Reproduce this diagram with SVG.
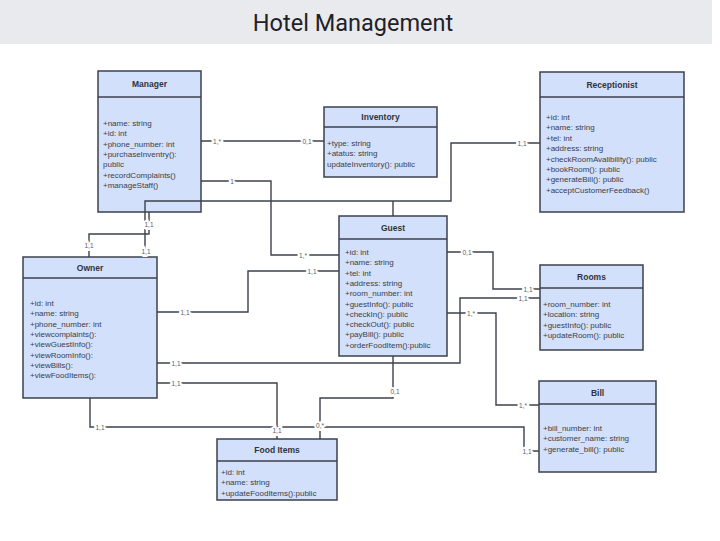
<svg xmlns="http://www.w3.org/2000/svg" width="720" height="541" viewBox="0 0 720 541">
<style>
.box{fill:#d3e0fb;stroke:#3c414c;stroke-width:1.5}
.div{stroke:#3c414c;stroke-width:1.5}
.hd{font-family:"Liberation Sans",Arial,sans-serif;font-size:8.5px;font-weight:bold;fill:#2f333b;text-anchor:middle}
.at{font-family:"Liberation Sans",Arial,sans-serif;font-size:8px;fill:#3a3e47}
.cn{fill:none;stroke:#3c414c;stroke-width:1.4}
.lb{font-family:"Liberation Sans",Arial,sans-serif;font-size:6.5px;fill:#555a63;text-anchor:middle;dominant-baseline:central;stroke:#ffffff;stroke-width:4px;paint-order:stroke}
</style>
<rect x="0" y="0" width="720" height="541" fill="#ffffff"/>
<g id="title">
<rect x="0" y="0" width="712" height="44" fill="#e9eaee"/>
<text x="353" y="31" font-family="Roboto,Liberation Sans,Arial,sans-serif" font-size="23.5" fill="#1f2126" text-anchor="middle">Hotel Management</text>
</g>
<g id="manager">
<rect class="box" x="98" y="71" width="103" height="141"/>
<line class="div" x1="98" y1="97" x2="201" y2="97"/>
<text class="hd" x="149.5" y="87">Manager</text>
<text class="at"><tspan x="103" y="126">+name: string</tspan><tspan x="103" y="136.3">+id: int</tspan><tspan x="103" y="146.6">+phone_number: int</tspan><tspan x="103" y="156.9">+purchaseInventry():</tspan><tspan x="103" y="167.2">public</tspan><tspan x="103" y="177.5">+recordComplaints()</tspan><tspan x="103" y="187.8">+manageStaff()</tspan></text>
</g>
<g id="inventory">
<rect class="box" x="324" y="107" width="113" height="70"/>
<line class="div" x1="324" y1="127" x2="437" y2="127"/>
<text class="hd" x="380.5" y="120">Inventory</text>
<text class="at"><tspan x="327" y="146">+type: string</tspan><tspan x="327" y="156.3">+atatus: string</tspan><tspan x="327" y="166.6">updateInventory(): public</tspan></text>
</g>
<g id="receptionist">
<rect class="box" x="540" y="72" width="144" height="140"/>
<line class="div" x1="540" y1="97" x2="684" y2="97"/>
<text class="hd" x="612" y="88">Receptionist</text>
<text class="at"><tspan x="546" y="120">+id: int</tspan><tspan x="546" y="130.4">+name: string</tspan><tspan x="546" y="140.8">+tel: int</tspan><tspan x="546" y="151.2">+address: string</tspan><tspan x="546" y="161.6">+checkRoomAvalibility(): public</tspan><tspan x="546" y="172">+bookRoom(): public</tspan><tspan x="546" y="182.4">+generateBill(): public</tspan><tspan x="546" y="192.8">+acceptCustomerFeedback()</tspan></text>
</g>
<g id="guest">
<rect class="box" x="339" y="216" width="108" height="140"/>
<line class="div" x1="339" y1="239" x2="447" y2="239"/>
<text class="hd" x="393" y="231">Guest</text>
<text class="at"><tspan x="345" y="255">+id: int</tspan><tspan x="345" y="265.3">+name: string</tspan><tspan x="345" y="275.6">+tel: int</tspan><tspan x="345" y="285.9">+address: string</tspan><tspan x="345" y="296.2">+room_number: int</tspan><tspan x="345" y="306.5">+guestInfo(): public</tspan><tspan x="345" y="316.8">+checkIn(): public</tspan><tspan x="345" y="327.1">+checkOut(): public</tspan><tspan x="345" y="337.4">+payBill(): public</tspan><tspan x="345" y="347.7">+orderFoodItem():public</tspan></text>
</g>
<g id="owner">
<rect class="box" x="23" y="257" width="134" height="141"/>
<line class="div" x1="23" y1="278" x2="157" y2="278"/>
<text class="hd" x="90" y="271">Owner</text>
<text class="at"><tspan x="30" y="306">+id: int</tspan><tspan x="30" y="316.3">+name: string</tspan><tspan x="30" y="326.6">+phone_number: int</tspan><tspan x="30" y="336.9">+viewcomplaints():</tspan><tspan x="30" y="347.2">+viewGuestInfo():</tspan><tspan x="30" y="357.5">+viewRoomInfo():</tspan><tspan x="30" y="367.8">+viewBills():</tspan><tspan x="30" y="378.1">+viewFoodItems():</tspan></text>
</g>
<g id="rooms">
<rect class="box" x="540" y="265" width="103" height="85"/>
<line class="div" x1="540" y1="288" x2="643" y2="288"/>
<text class="hd" x="591.5" y="280">Rooms</text>
<text class="at"><tspan x="543" y="307">+room_number: int</tspan><tspan x="543" y="317.3">+location: string</tspan><tspan x="543" y="327.6">+guestInfo(): public</tspan><tspan x="543" y="337.9">+updateRoom(): public</tspan></text>
</g>
<g id="bill">
<rect class="box" x="539" y="381" width="117" height="91"/>
<line class="div" x1="539" y1="404" x2="656" y2="404"/>
<text class="hd" x="597.5" y="396">Bill</text>
<text class="at"><tspan x="543" y="431">+bill_number: int</tspan><tspan x="543" y="441.3">+customer_name: string</tspan><tspan x="543" y="451.6">+generate_bill(): public</tspan></text>
</g>
<g id="food-items">
<rect class="box" x="217" y="439" width="120" height="61"/>
<line class="div" x1="217" y1="461" x2="337" y2="461"/>
<text class="hd" x="277" y="453">Food Items</text>
<text class="at"><tspan x="221" y="475">+id: int</tspan><tspan x="221" y="485.3">+name: string</tspan><tspan x="221" y="495.6">+updateFoodItems():public</tspan></text>
</g>
<g id="connectors">
<path class="cn" d="M201,141 H324"/>
<path class="cn" d="M201,181 H271 V255 H339"/>
<path class="cn" d="M540,143 H451 V201 H145 V257"/>
<path class="cn" d="M393,201 V216"/>
<path class="cn" d="M149,212 V234 H89 V257"/>
<path class="cn" d="M157,312 H248 V271 H339"/>
<path class="cn" d="M157,363 H460 V298 H540"/>
<path class="cn" d="M447,252 H493 V289 H540"/>
<path class="cn" d="M447,313 H496 V405 H539"/>
<path class="cn" d="M157,383 H277 V439"/>
<path class="cn" d="M90,398 V427 H524 V451 H539"/>
<path class="cn" d="M393,356 V398 H320 V439"/>
<text class="lb" x="217" y="141">1,*</text>
<text class="lb" x="307" y="141">0,1</text>
<text class="lb" x="232" y="181">1</text>
<text class="lb" x="303" y="255">1,*</text>
<text class="lb" x="522" y="143">1,1</text>
<text class="lb" x="146" y="251">1,1</text>
<text class="lb" x="149" y="224">1,1</text>
<text class="lb" x="89" y="245">1,1</text>
<text class="lb" x="185" y="312">1,1</text>
<text class="lb" x="312" y="271">1,1</text>
<text class="lb" x="176" y="363">1,1</text>
<text class="lb" x="523" y="298">1,1</text>
<text class="lb" x="467" y="252">0,1</text>
<text class="lb" x="528" y="289">1,1</text>
<text class="lb" x="471" y="313">1,*</text>
<text class="lb" x="523" y="405">1,*</text>
<text class="lb" x="176" y="383">1,1</text>
<text class="lb" x="277" y="430">1,1</text>
<text class="lb" x="100" y="427">1,1</text>
<text class="lb" x="527" y="451">1,1</text>
<text class="lb" x="395" y="391">0,1</text>
<text class="lb" x="320" y="425">0,*</text>
</g>
</svg>
